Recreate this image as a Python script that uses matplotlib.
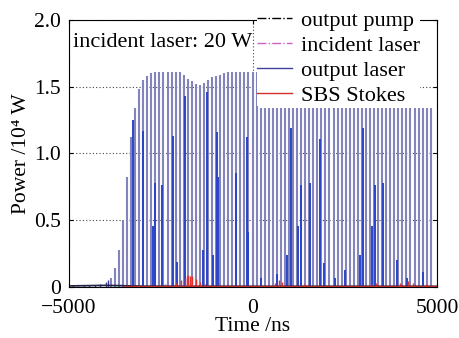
import numpy as np
import matplotlib.pyplot as plt
from matplotlib.lines import Line2D

plt.rcParams['font.family'] = ['Liberation Serif', 'DejaVu Serif']
plt.rcParams['axes.unicode_minus'] = True

# output laser pulse train: first pulse time, spacing (ns) and peak per pulse (10^4 W)
first_pulse = -3860
pulse_period = 110
pulse_peaks = [0.07, 0.14, 0.28, 0.50, 0.82, 1.12, 1.34, 1.48, 1.55, 1.58,
               1.60, 1.61, 1.61, 1.61, 1.61, 1.61, 1.61, 1.61, 1.59, 1.56,
               1.54, 1.52, 1.51, 1.53, 1.55, 1.57, 1.58, 1.59, 1.60, 1.61,
               1.61, 1.61, 1.61, 1.61, 1.61, 1.61, 1.61,
               1.34, 1.34, 1.34, 1.34, 1.34, 1.34, 1.34, 1.34, 1.34, 1.34,
               1.34, 1.34, 1.34, 1.34, 1.34, 1.34, 1.34, 1.34, 1.34, 1.34,
               1.34, 1.34, 1.34, 1.34, 1.34, 1.34, 1.34, 1.34, 1.34, 1.34,
               1.34, 1.34, 1.34, 1.34, 1.34, 1.34, 1.34, 1.34, 1.34, 1.34,
               1.34, 1.34, 1.34]

# partially sampled (brighter) laser spikes
spike_t = [-3261, -2989, -2717, -2663, -2473, -2174, -2065, -1848, -1359, -1250,
           -1087, -978, -951, -462, -163, -136, 217, 652, 924, 1033, 1223, 1304,
           1549, 1821, 1929, 2228, 2500, 2908, 2989, 3234, 3315, 3533, 3913, 4185,
           4620]
spike_h = [1.25, 1.17, 0.46, 0.78, 0.76, 1.13, 0.19, 1.43, 0.28, 1.46,
           0.24, 1.16, 0.82, 0.85, 1.12, 0.41, 0.07, 0.10, 0.24, 1.19, 0.46, 0.76,
           0.78, 1.11, 0.18, 0.07, 0.13, 0.24, 1.19, 0.46, 0.76, 0.78, 0.20, 0.07,
           0.11]

# early low-level noise of the output laser
noise_t = [-4900, -4750, -4600, -4450, -4300, -4150, -4000, -3950]
noise_h = [0.012, 0.010, 0.015, 0.018, 0.012, 0.020, 0.035, 0.050]

# SBS Stokes spikes
sbs_t = [-2400, -2100, -1950, -1850, -1800, -1750, -1700, -1650, -1550, -1450,
         -1300, -700, -400, 600, 700, 800, 1400, 2000, 3200, 3350, 4000, 4200,
         4350, 4700]
sbs_h = [0.02, 0.03, 0.05, 0.07, 0.08, 0.09, 0.085, 0.08, 0.06, 0.04,
         0.02, 0.02, 0.015, 0.03, 0.05, 0.04, 0.02, 0.015, 0.02, 0.03, 0.03, 0.045,
         0.03, 0.02]

# output pump (near zero)
pump_t = [-5000, -4500, -4000, -3600, -3000, -2000, -1000, 0, 1000, 2000, 3000, 4000, 5000]
pump_v = [0.008, 0.010, 0.012, 0.010, 0.006, 0.005, 0.005, 0.005, 0.005, 0.005, 0.005, 0.005, 0.005]

pulse_t = first_pulse + pulse_period * np.arange(len(pulse_peaks))

fig = plt.figure(figsize=(4.59, 3.38), dpi=100)
ax = fig.add_axes([0.150, 0.151, 0.802, 0.790])

ax.grid(True, color='#444444', linestyle=(0, (1, 2)), linewidth=0.8)
ax.set_axisbelow(True)

ax.vlines(pulse_t, 0, pulse_peaks, color='#8484bc', linewidth=1.5)
ax.vlines(spike_t, 0, spike_h, color='#2b45c8', linewidth=1.4)
ax.vlines(noise_t, 0, noise_h, color='#3a3aa0', linewidth=1.0)
ax.plot(pump_t, pump_v, color='#222244', linewidth=1.2)
ax.vlines(sbs_t, 0, sbs_h, color='#e03030', linewidth=1.0)
ax.plot([-3500, 5000], [0.004, 0.004], color='#c03030', linewidth=1.0)

ax.set_xlim(-5000, 5000)
ax.set_ylim(0, 2.0)
ax.set_xticks([-5000, 0, 5000])
ax.set_yticks([0, 0.5, 1.0, 1.5, 2.0])
ax.set_yticklabels(['0', '0.5', '1.0', '1.5', '2.0'])
ax.tick_params(direction='in', top=True, right=True, labelsize=15.5, length=3)
ax.tick_params(axis='x', pad=9)
ax.tick_params(axis='y', pad=6)
ax.set_xlabel('Time /ns', fontsize=15.5, labelpad=-1)
ax.set_ylabel('Power /10⁴ W', fontsize=15.5, labelpad=2)

ax.text(0.012, 0.95, 'incident laser: 20 W', transform=ax.transAxes,
        fontsize=16, va='top', ha='left')

handles = [Line2D([], [], color='black', linestyle='-.', linewidth=1),
           Line2D([], [], color='#d060c0', linestyle='-.', linewidth=1),
           Line2D([], [], color='#4040a0', linestyle='-', linewidth=1),
           Line2D([], [], color='#d03030', linestyle='-', linewidth=1)]
labels = ['output pump', 'incident laser', 'output laser', 'SBS Stokes']
leg = ax.legend(handles, labels, loc='upper left', bbox_to_anchor=(0.51, 1.035),
                fontsize=16, frameon=True, framealpha=1, edgecolor='none',
                fancybox=False, borderpad=0.0, labelspacing=0.2,
                handlelength=1.6, handletextpad=0.4, borderaxespad=0.0)

fig.savefig('out.png', dpi=100)
